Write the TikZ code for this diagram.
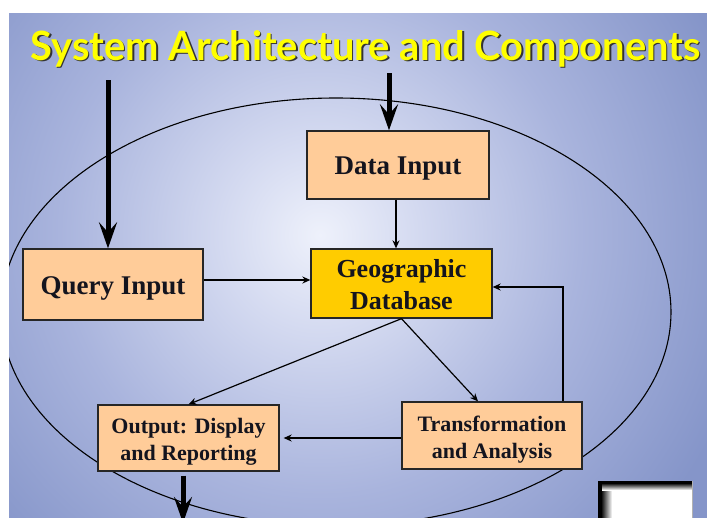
\documentclass[tikz,border=0pt]{standalone}
\usepackage{fontspec}
\usetikzlibrary{arrows.meta}
\newfontfamily\boxfont{Liberation Serif}
\newfontfamily\titlefont{Lato}
\definecolor{peach}{HTML}{FFCC99}
\definecolor{gold}{HTML}{FFCC00}
\definecolor{glowa}{HTML}{EEF1FB}
\definecolor{glowb}{HTML}{D3D9F0}
\definecolor{glowc}{HTML}{A9B4DD}
\definecolor{glowd}{HTML}{8595C9}
\definecolor{glowe}{HTML}{7F8FC5}
\definecolor{inkc}{HTML}{14141E}
\definecolor{titley}{HTML}{FFFF00}
\pgfdeclareradialshading{bgglow}{\pgfpoint{0bp}{0bp}}{color(0bp)=(glowa); color(5bp)=(glowb); color(13bp)=(glowc); color(22bp)=(glowd); color(50bp)=(glowe)}
% move a label down without changing the size the node sees
\newcommand\lowerby[2]{\raisebox{-#1}[\height][\depth]{#2}}
\newcommand\twolines[3]{\raisebox{-#1}[\height][\depth]{\begin{tabular}{@{}c@{}}#2\\#3\end{tabular}}}
\tikzset{
  box/.style={draw=black!85, line width=1.3pt, fill=peach, inner sep=0pt,
    align=center, text=inkc},
  bigtext/.style={font=\boxfont\bfseries\fontsize{27}{33}\selectfont},
  midtext/.style={font=\boxfont\bfseries\fontsize{26}{32}\selectfont},
  smalltext/.style={font=\boxfont\bfseries\fontsize{22}{27}\selectfont},
  link/.style={line width=1.2pt, draw=black, -{Stealth[length=8pt,width=7pt]}},
  feed/.style={line width=5pt, draw=black, -{Stealth[length=26pt,width=18pt,inset=10pt]}},
}
\begin{document}
\begin{tikzpicture}[x=1pt,y=-1pt]
  \useasboundingbox (0,0) rectangle (707,517);
  \fill[white] (0,0) rectangle (707,517);
  \begin{scope}
    \clip (9,13) rectangle (707,517);
    % slide background with a soft glow
    \shade[shading=bgglow] (320,235) circle (500pt);

    % system boundary
    \draw[line width=1.1pt] (336,312) ellipse [x radius=335pt, y radius=214pt];

    % title with drop shadow
    \node[anchor=base west, text=black!80] at (28.5,61.5)
      {\resizebox{670pt}{30pt}{\titlefont\bfseries System Architecture and Components}};
    \node[anchor=base west, text=titley] at (27,60)
      {\resizebox{670pt}{30pt}{\titlefont\bfseries System Architecture and Components}};

    % components
    \node[box, bigtext, minimum width=182pt, minimum height=68pt] (datain) at (398,165) {\lowerby{4pt}{Data Input}};
    \node[box, midtext, fill=gold, minimum width=181pt, minimum height=69pt] (geodb) at (401.5,283.5) {\twolines{3.5pt}{Geographic}{Database}};
    \node[box, bigtext, minimum width=180pt, minimum height=71pt] (query) at (113,284.5) {\lowerby{4pt}{Query Input}};
    \node[box, smalltext, minimum width=181pt, minimum height=66pt] (output) at (188.5,438) {\twolines{4pt}{Output: Display}{and Reporting}};
    \node[box, smalltext, minimum width=180pt, minimum height=67pt] (transf) at (492,435.5) {\twolines{4pt}{Transformation}{and Analysis}};

    % internal flows
    \draw[link] ([xshift=-2pt]datain.south) -- ([xshift=-2pt]datain.south |- geodb.north);
    \draw[link] ([yshift=4.5pt]query.east) -- ([yshift=4.5pt]query.east -| geodb.west);
    \draw[link] ([xshift=71pt]transf.north) |- ([yshift=-3.5pt]geodb.east);
    \draw[link] (geodb.south) -- (output.north);
    \draw[link] (geodb.south) -- ([xshift=-14pt]transf.north);
    \draw[link, shorten >=4pt] ([yshift=-2.5pt]transf.west) -- ([yshift=-2.5pt]transf.west -| output.east);

    % external inputs and output
    \coordinate (qsrc) at (108,80);
    \coordinate (dsrc) at (389,73);
    \coordinate (osink) at (183,523);
    \draw[feed] (qsrc) -- (qsrc |- query.north);
    \draw[feed] (dsrc) -- (dsrc |- datain.north);
    \draw[feed, shorten <=4pt] (osink |- output.south) -- (osink);

    % framed white panel in the corner
    \fill[white] (598,481) rectangle (692,520);
    \shade[left color=black, right color=white] (601,481) rectangle (612,520);
    \shade[top color=black, bottom color=white] (598,483) rectangle (692,490);
    \fill[black] (598,481) rectangle (692,484);
    \fill[black] (598,481) rectangle (602,520);
    \draw[black!30, line width=0.8pt] (692,481) -- (692,520);
  \end{scope}
\end{tikzpicture}
\end{document}
